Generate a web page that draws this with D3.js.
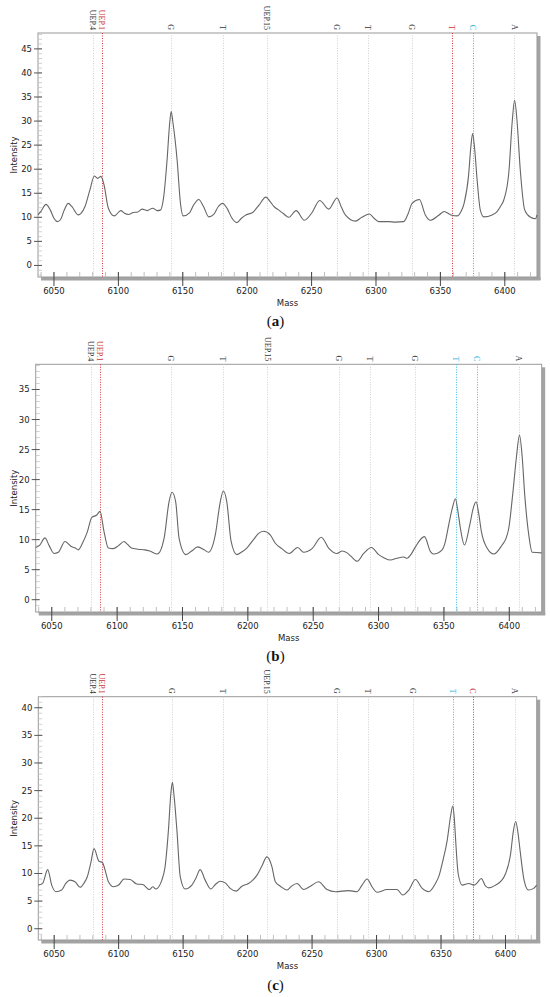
<!DOCTYPE html>
<html>
<head>
<meta charset="utf-8">
<script src="https://cdn.jsdelivr.net/npm/d3@7"></script>
<style>
body { margin: 0; background: #fff; }
text { font-family: "DejaVu Sans", Verdana, sans-serif; }
</style>
</head>
<body>
<div id="svg-container"></div>
<script>
// peak labels above each spectrum
var markerMass = [6080, 6087, 6141, 6181, 6215, 6269.5, 6293.5, 6328, 6359, 6375, 6407.5];
var markerLabels = ["UEP.4", "UEP.1", "G", "T", "UEP.15", "G", "T", "G", "T", "C", "A"];
// k = black, r = red, c = cyan
var markerKindA = ["k", "r", "k", "k", "k", "k", "k", "k", "r", "c", "k"];
var markerKindB = ["k", "r", "k", "k", "k", "k", "k", "k", "c", "c", "k"];
var markerKindC = ["k", "r", "k", "k", "k", "k", "k", "k", "c", "r", "k"];

var massTicks = [6050, 6100, 6150, 6200, 6250, 6300, 6350, 6400];

var massA = [6037.6,6040,6043.8,6047,6050,6052.6,6055,6058,6061.1,6064,6068.9,6071,6074,6077.9,6081.3,6083.9,6086.5,6088.9,6092.2,6096.9,
  6101.9,6104.5,6107.8,6111.6,6115,6118.4,6122.3,6126.7,6130.1,6132.6,6135.2,6137.8,6139.8,6141,6142.3,6145.6,6148.2,6150.3,6155.4,6158.5,
  6162.4,6166,6170.2,6174,6177.5,6180.9,6184.5,6188,6192,6195.5,6199,6204.2,6209.3,6214.5,6218,6221,6224,6228,6232.3,6238,
  6244.4,6250.4,6256.3,6263.3,6269.8,6273,6276.2,6284,6289,6294.9,6298.5,6302.1,6310,6315,6321.5,6325,6328,6333.7,6338.3,6342.2,
  6349,6352.9,6358.1,6363.3,6366,6368.4,6371.8,6373.6,6375,6376.5,6378.5,6381,6383.7,6390.2,6394,6396.5,6399.2,6403.1,6405.8,6407.6,
  6409.5,6412,6415.5,6420,6423.8,6425];
var intA = [10.5,11.3,12.7,11.6,9.8,9.1,9.5,11.5,12.9,12.2,10.5,10.8,12.2,15.7,18.6,18.1,18.5,16.7,11.9,10.3,
  11.4,10.9,10.6,11.0,11.1,11.7,11.4,11.9,11.4,11.5,14.3,21.9,29.5,32.0,29.8,21.9,12.9,10.3,11.0,12.6,
  13.7,12.3,10.1,10.6,12.2,12.9,11.8,9.9,8.9,9.8,10.5,11.0,12.6,14.2,13.2,12.2,11.6,10.8,10.0,11.4,
  9.4,11.0,13.5,11.7,14.0,12.2,10.5,9.2,10.0,10.7,9.8,9.1,9.1,9.0,9.1,10.8,12.9,13.7,10.5,9.4,
  10.5,11.2,10.5,10.3,11.2,12.9,18.5,24.5,27.4,24.5,17.8,11.5,10.1,10.5,11.2,12.2,13.6,19.2,30.0,34.3,
  30.0,19.9,11.5,10.0,9.7,10.5];

var massB = [6037.7,6040.8,6044.8,6048,6051.7,6055,6060.1,6065.3,6068,6070.3,6074.1,6077.2,6080.6,6084.4,6086.9,6090,6093.3,6097,6101,6105.3,
  6108,6110.9,6116,6121.2,6125,6130.8,6135.9,6139.7,6142,6144.8,6147.4,6152.6,6157,6161.6,6166.6,6169.9,6175.1,6178.9,6181.2,6183.9,
  6187.2,6191.6,6195,6199.2,6204.3,6208,6212,6217.1,6221,6226,6231.7,6238.1,6242.7,6249.1,6256.2,6261.8,6268.2,6272.1,6275.9,6279,
  6283.6,6288.6,6294.5,6300.1,6304,6309.1,6314,6319.2,6321.8,6325,6328.2,6335.1,6339.7,6342.2,6348.6,6351,6353.7,6356.5,6358.8,6360.5,
  6362.6,6365.7,6369.8,6372.5,6374.6,6376.5,6378.7,6383,6388.1,6394.5,6397.5,6399.6,6402.6,6405.5,6407.8,6409.8,6411.8,6414.9,6417.5,6424.8];
var intB = [8.7,9.1,10.3,9.0,7.7,7.9,9.7,8.8,8.6,8.3,9.7,11.3,13.7,14.1,14.7,11.3,8.6,8.5,9.0,9.7,
  9.2,8.6,8.4,8.3,8.1,7.6,10.2,16.3,17.9,16.3,10.2,7.5,8.1,8.8,8.3,7.9,10.8,16.3,18.1,16.3,
  9.7,7.5,7.9,8.6,10.0,11.0,11.4,10.8,9.4,8.5,7.7,8.7,7.9,8.5,10.4,8.6,7.7,8.1,7.8,7.2,
  6.4,7.7,8.7,7.5,7.0,6.6,6.9,7.1,6.9,7.6,8.8,10.5,8.0,7.6,8.3,9.6,12.5,15.3,16.8,15.0,
  11.9,9.1,12.5,15.3,16.3,14.5,11.3,8.6,7.6,9.1,10.2,11.9,17.5,23.8,27.4,24.0,17.5,10.8,7.9,7.8];

var massC = [6037.7,6041,6045,6048.1,6051.4,6055.8,6059,6062.3,6066.2,6070.1,6073,6075.7,6078.5,6080.9,6084.8,6087.4,6089.5,6092.1,6096,6100,
  6104.2,6108.9,6114.1,6118.7,6123.9,6126.5,6128.8,6133.5,6136,6138.6,6140.5,6141.7,6143,6145.2,6147.8,6151.6,6156.8,6160,6163.2,6167.1,
  6171.5,6175,6178.8,6182.7,6186.5,6191.2,6195.6,6200.7,6204,6207.3,6211,6215,6218.9,6221.5,6225.4,6230.6,6234,6238.3,6243.5,6248.7,
  6255.1,6261.6,6268.1,6278.4,6284.9,6289,6292.7,6296.5,6300.4,6308.2,6315.9,6320.3,6325,6330.2,6335.4,6340.5,6345.7,6348.5,6350.9,6354.8,
  6357.5,6359.1,6360.3,6361.2,6363.3,6366.4,6371.6,6375.5,6378,6381.2,6384.6,6387.2,6392.4,6396.5,6400.1,6404,6406,6407.9,6409.6,6411.3,
  6414.4,6417.8,6421.8,6424.2];
var intC = [7.9,8.2,10.7,7.9,6.7,7.0,8.2,8.8,8.5,7.5,8.2,9.4,12.0,14.5,12.2,12.0,10.6,8.5,7.6,7.9,
  9.0,8.9,8.1,8.0,7.1,7.6,7.2,8.8,11.2,17.8,24.5,26.5,24.0,17.8,9.4,7.2,7.9,9.2,10.7,8.8,
  7.2,8.0,8.6,8.3,7.3,6.8,7.7,8.2,8.8,9.7,11.3,13.0,11.2,8.5,7.7,7.0,7.7,8.2,7.1,7.7,
  8.5,7.1,6.7,6.9,6.7,8.0,9.0,7.6,6.6,7.1,7.1,6.1,7.0,8.9,7.3,6.7,8.2,9.6,11.8,16.0,
  20.5,22.2,20.0,16.6,10.0,7.9,8.2,7.9,8.3,9.1,7.7,7.4,7.9,8.6,10.0,13.6,17.5,19.4,17.5,14.2,
  8.8,7.0,7.3,7.9];

var yTicksA = [0,5,10,15,20,25,30,35,40,45];
var yTicksB = [0,5,10,15,20,25,30,35];
var yTicksC = [0,5,10,15,20,25,30,35,40];

var markerColor = {k: "#cfcfcf", r: "#d03a3e", c: "#3cbde2"};
var labelColor = {k: "#333", r: "#c8343a", c: "#2fb3dc"};

var svg = d3.select("#svg-container").append("svg")
    .attr("width", 550)
    .attr("height", 997);

function px(v) { return Math.round(v) + 0.5; }

function drawPanel(box, xDom, yDom, yTicks, mass, inten, kinds, caption) {
    var x = d3.scaleLinear().domain(xDom).range([box.left, box.right]);
    var y = d3.scaleLinear().domain(yDom).range([box.bottom, box.top]);
    var g = svg.append("g");

    // frame with grey shadow on right and bottom
    g.append("rect")
        .attr("x", box.right).attr("y", box.top + 3)
        .attr("width", 3.5).attr("height", box.bottom - box.top)
        .attr("fill", "#a3a3a3");
    g.append("rect")
        .attr("x", box.left + 3).attr("y", box.bottom)
        .attr("width", box.right - box.left + 0.5).attr("height", 3.5)
        .attr("fill", "#a3a3a3");
    g.append("rect")
        .attr("x", box.left).attr("y", box.top)
        .attr("width", box.right - box.left).attr("height", box.bottom - box.top)
        .attr("fill", "none").attr("stroke", "#9a9a9a").attr("stroke-width", 1);

    // minor ticks inside the frame
    var yMinor = d3.range(Math.ceil(yDom[0]), Math.floor(yDom[1]) + 1);
    g.selectAll(".ymin").data(yMinor).enter().append("line")
        .attr("x1", box.left).attr("x2", box.left + 4)
        .attr("y1", function(d) { return y(d); }).attr("y2", function(d) { return y(d); })
        .attr("stroke", "#c4c4c4").attr("stroke-width", 0.8);
    var xMinor = d3.range(6040, 6430, 10);
    g.selectAll(".xmin").data(xMinor).enter().append("line")
        .attr("x1", function(d) { return x(d); }).attr("x2", function(d) { return x(d); })
        .attr("y1", box.bottom - 5).attr("y2", box.bottom + 1)
        .attr("stroke", "#b0b0b0").attr("stroke-width", 0.8);

    // marker lines + labels
    var mk = markerMass.map(function(m, i) { return {m: m, label: markerLabels[i], kind: kinds[i]}; });
    g.selectAll(".mline").data(mk).enter().append("line")
        .attr("x1", function(d) { return px(x(d.m)); }).attr("x2", function(d) { return px(x(d.m)); })
        .attr("y1", box.top).attr("y2", box.bottom)
        .attr("stroke", function(d) { return markerColor[d.kind]; })
        .attr("stroke-width", 1)
        .attr("stroke-dasharray", "1,1.5");
    g.selectAll(".mlab").data(mk).enter().append("text")
        .attr("transform", function(d) { return "translate(" + x(d.m) + "," + (box.top - 3) + ") rotate(90)"; })
        .attr("text-anchor", "end")
        .attr("dy", "0.35em")
        .style("font-family", "'Liberation Serif', 'Times New Roman', serif")
        .style("font-size", "8px")
        .attr("fill", function(d) { return labelColor[d.kind]; })
        .text(function(d) { return d.label; });

    // y axis ticks + labels
    g.selectAll(".ytk").data(yTicks).enter().append("line")
        .attr("x1", box.left - 4).attr("x2", box.left + 4)
        .attr("y1", function(d) { return y(d); }).attr("y2", function(d) { return y(d); })
        .attr("stroke", "#555").attr("stroke-width", 1);
    g.selectAll(".ylab").data(yTicks).enter().append("text")
        .attr("x", box.left - 6)
        .attr("y", function(d) { return y(d); })
        .attr("dy", "0.35em")
        .attr("text-anchor", "end")
        .style("font-size", "8.5px")
        .attr("fill", "#222")
        .text(function(d) { return d; });

    // x axis ticks + labels
    g.selectAll(".xtk").data(massTicks).enter().append("line")
        .attr("x1", function(d) { return x(d); }).attr("x2", function(d) { return x(d); })
        .attr("y1", box.bottom - 5).attr("y2", box.bottom + 9)
        .attr("stroke", "#444").attr("stroke-width", 1);
    g.selectAll(".xlab").data(massTicks).enter().append("text")
        .attr("x", function(d) { return x(d); })
        .attr("y", box.bottom + 16.5)
        .attr("text-anchor", "middle")
        .style("font-size", "8.5px")
        .attr("fill", "#222")
        .text(function(d) { return d; });

    g.append("text")
        .attr("x", (box.left + box.right) / 2)
        .attr("y", box.bottom + 29)
        .attr("text-anchor", "middle")
        .style("font-size", "8.5px")
        .attr("fill", "#222")
        .text("Mass");
    g.append("text")
        .attr("transform", "translate(16.5," + ((box.top + box.bottom) / 2) + ") rotate(-90)")
        .attr("text-anchor", "middle")
        .style("font-size", "8.5px")
        .attr("fill", "#222")
        .text("Intensity");

    // spectrum trace
    var pts = mass.map(function(m, i) { return [m, inten[i]]; });
    var line = d3.line()
        .x(function(d) { return x(d[0]); })
        .y(function(d) { return y(d[1]); })
        .curve(d3.curveMonotoneX);
    g.append("path")
        .datum(pts)
        .attr("d", line)
        .attr("fill", "none")
        .attr("stroke", "#666")
        .attr("stroke-width", 1.1);

    // caption (a) (b) (c)
    var cap = g.append("text")
        .attr("x", 275.5)
        .attr("y", box.capY)
        .attr("text-anchor", "middle")
        .style("font-family", "'Liberation Serif', 'Times New Roman', serif")
        .style("font-size", "15px")
        .attr("fill", "#111");
    cap.append("tspan").text("(");
    cap.append("tspan").style("font-weight", "bold").text(caption);
    cap.append("tspan").text(")");
}

drawPanel({left: 38, right: 537, top: 33, bottom: 277, capY: 326},
    [6037.6, 6425], [-2.4, 48.3], yTicksA, massA, intA, markerKindA, "a");
drawPanel({left: 35.7, right: 541.7, top: 364.3, bottom: 612, capY: 661},
    [6037.7, 6424.8], [-2.05, 39.2], yTicksB, massB, intB, markerKindB, "b");
drawPanel({left: 38.3, right: 536.7, top: 696.7, bottom: 940, capY: 990},
    [6037.7, 6424.2], [-2.04, 42], yTicksC, massC, intC, markerKindC, "c");
</script>
</body>
</html>
